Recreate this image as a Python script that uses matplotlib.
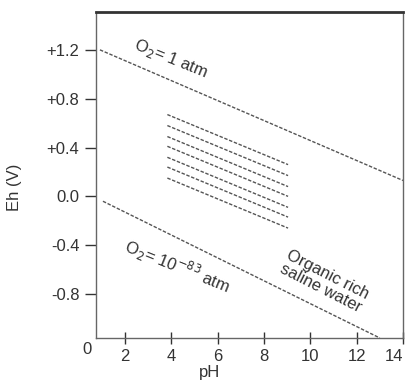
import matplotlib
matplotlib.use("Agg")
import matplotlib.pyplot as plt

# ---- data ----
ph_o2_high = [0.92, 14.0]
eh_o2_high = [1.20, 0.13]
ph_o2_low = [1.05, 13.0]
eh_o2_low = [-0.04, -1.16]
ph_hatch = [3.83, 9.04]
eh_hatch_start = [0.67, 0.58, 0.49, 0.41, 0.32, 0.24, 0.15]
eh_hatch_end = [0.26, 0.17, 0.08, 0.00, -0.09, -0.17, -0.26]
x_ticks = [2, 4, 6, 8, 10, 12, 14]
y_ticks = [1.2, 0.8, 0.4, 0.0, -0.4, -0.8]
y_ticklabels = ["+1.2", "+0.8", "+0.4", "0.0", "-0.4", "-0.8"]

plt.rcParams['font.family'] = ['Liberation Sans', 'DejaVu Sans']
line_col = '#555555'
text_col = '#333333'

fig = plt.figure(figsize=(4.06, 3.82), dpi=100)
ax = fig.add_axes([96/406, 1-338/382, (403-96)/406, (338-12)/382])
ax.set_xlim(0.75, 14.0)
ax.set_ylim(-1.16, 1.51)

dash = (0, (2.5, 1.2))
ax.plot(ph_o2_high, eh_o2_high, color=line_col, lw=1.0, linestyle=dash)
ax.plot(ph_o2_low, eh_o2_low, color=line_col, lw=1.0, linestyle=dash)
for s, e in zip(eh_hatch_start, eh_hatch_end):
    ax.plot(ph_hatch, [s, e], color=line_col, lw=1.0, linestyle=dash)

ax.set_xticks(x_ticks)
ax.set_xticklabels([str(t) for t in x_ticks])
ax.set_yticks(y_ticks)
ax.set_yticklabels(y_ticklabels)
ax.tick_params(axis='x', direction='inout', length=8, width=1, colors=text_col,
               labelsize=12, pad=4)
ax.tick_params(axis='y', direction='out', length=8, width=1, colors=text_col,
               labelsize=12, pad=4)
# keep the last x label inside the figure
ax.get_xticklabels()[-1].set_horizontalalignment('right')

for side in ['left', 'bottom', 'right']:
    ax.spines[side].set_color('#666666')
    ax.spines[side].set_linewidth(1.0)
ax.spines['top'].set_color('#333333')
ax.spines['top'].set_linewidth(2.0)

# "0" label at origin, left of the axis
fig.text(87/406, 1-349/382, "0", ha='center', va='center', fontsize=12, color=text_col)

ax.set_ylabel("Eh (V)", fontsize=12, color=text_col)
ax.yaxis.set_label_coords((22-96)/307, (338-187)/326)
fig.text(210/406, 1-372/382, "pH", ha='center', va='center', fontsize=12, color=text_col)

ax.text(3.95, 1.13, "O$_2$= 1 atm", rotation=-22, ha='center', va='center',
        fontsize=12, color=text_col, rotation_mode='anchor')
ax.text(4.25, -0.57, "O$_2$= 10$^{-83}$ atm", rotation=-22, ha='center', va='center',
        fontsize=12, color=text_col, rotation_mode='anchor')
ax.text(10.6, -0.7, "Organic rich\nsaline water", rotation=-27, ha='center', va='center',
        fontsize=12, color=text_col, rotation_mode='anchor', linespacing=1.0)

fig.savefig("out.png", dpi=100)
